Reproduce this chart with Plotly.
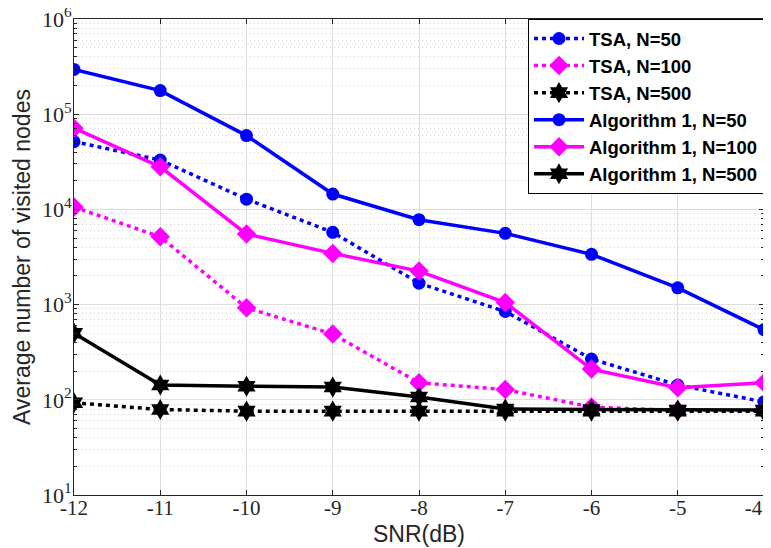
import plotly.graph_objects as go

snr = [-12, -11, -10, -9, -8, -7, -6, -5, -4]

tsa_50 = [51500, 33000, 12800, 5740, 1680, 847, 268, 143, 95]
tsa_100 = [10600, 5150, 925, 490, 151, 128, 84, 77, 77]
tsa_500 = [93, 79, 76, 76, 76, 76, 76, 76, 76]
alg_50 = [295000, 177000, 59600, 14500, 7800, 5600, 3370, 1500, 545]
alg_100 = [71400, 28000, 5500, 3450, 2250, 1050, 210, 134, 151]
alg_500 = [501, 143, 139, 136, 107, 80, 79, 78, 78]

x_ticks = [-12, -11, -10, -9, -8, -7, -6, -5, -4]
x_ticktext = ["-12", "-11", "-10", "-9", "-8", "-7", "-6", "-5", "-4\u00a0\u00a0\u00a0\u00a0"]
y_tickvals = [10, 100, 1000, 10000, 100000, 1000000]
y_ticktext = ["10<sup>1</sup>", "10<sup>2</sup>", "10<sup>3</sup>",
              "10<sup>4</sup>", "10<sup>5</sup>", "10<sup>6</sup>"]

series = [
    ("TSA, N=50", tsa_50, "#0000FF", "4px,4px", "circle", 13),
    ("TSA, N=100", tsa_100, "#FF00FF", "4px,4px", "diamond", 15),
    ("TSA, N=500", tsa_500, "#000000", "4px,4px", "hexagram", 16),
    ("Algorithm 1, N=50", alg_50, "#0000FF", "solid", "circle", 13),
    ("Algorithm 1, N=100", alg_100, "#FF00FF", "solid", "diamond", 15),
    ("Algorithm 1, N=500", alg_500, "#000000", "solid", "hexagram", 16),
]

fig = go.Figure()
for i, (name, vals, color, dash, sym, sz) in enumerate(series):
    fig.add_trace(go.Scatter(
        x=snr, y=vals, name=name, mode="lines+markers",
        legendgroup=f"g{i}",
        line=dict(color=color, width=3.5, dash=dash),
        marker=dict(symbol=sym, size=sz, color=color, line=dict(width=0)),
    ))

axis_color = "#262626"
fig.update_layout(
    width=763, height=540,
    margin=dict(l=66, r=7, t=11, b=53, autoexpand=False),
    paper_bgcolor="white", plot_bgcolor="white",
    showlegend=True,
    legend=dict(
        x=1, y=1, xanchor="right", yanchor="top",
        bordercolor="#000000", borderwidth=1, bgcolor="white",
        font=dict(family="Liberation Sans, Arial", size=18.5, color="#000000", weight="bold"),
        tracegroupgap=0,
        itemwidth=50,
    ),
    xaxis=dict(
        range=[-12, -4], tickmode="array", tickvals=x_ticks,
        ticktext=x_ticktext,
        ticklabeloverflow="allow", automargin=False, ticklabelstandoff=-6,
        showgrid=True, gridcolor="#dedede", gridwidth=1,
        showline=True, linecolor=axis_color, linewidth=1, mirror="ticks",
        ticks="inside", ticklen=5, tickcolor=axis_color,
        tickfont=dict(family="Liberation Serif, Times New Roman", size=21, color=axis_color),
        title=dict(text="SNR(dB)", font=dict(family="Liberation Sans, Arial", size=23, color=axis_color), standoff=6),
        zeroline=False,
    ),
    yaxis=dict(
        type="log", range=[1, 6.00001], tickmode="array", tickvals=y_tickvals, ticktext=y_ticktext,
        ticklabeloverflow="allow", automargin=False, ticklabelstandoff=-3,
        showgrid=True, gridcolor="#dedede", gridwidth=1,
        showline=True, linecolor=axis_color, linewidth=1, mirror="ticks",
        ticks="inside", ticklen=5, tickcolor=axis_color,
        tickfont=dict(family="Liberation Serif, Times New Roman", size=22, color=axis_color),
        title=dict(text="Average number of visited nodes", font=dict(family="Liberation Sans, Arial", size=23, color=axis_color), standoff=4),
        minor=dict(dtick="D1", ticks="inside", ticklen=3, tickcolor=axis_color,
                   showgrid=True, gridcolor="#d0d0d0", griddash="1px,3px", gridwidth=1),
        zeroline=False,
    ),
)

fig.write_html("out.html")
